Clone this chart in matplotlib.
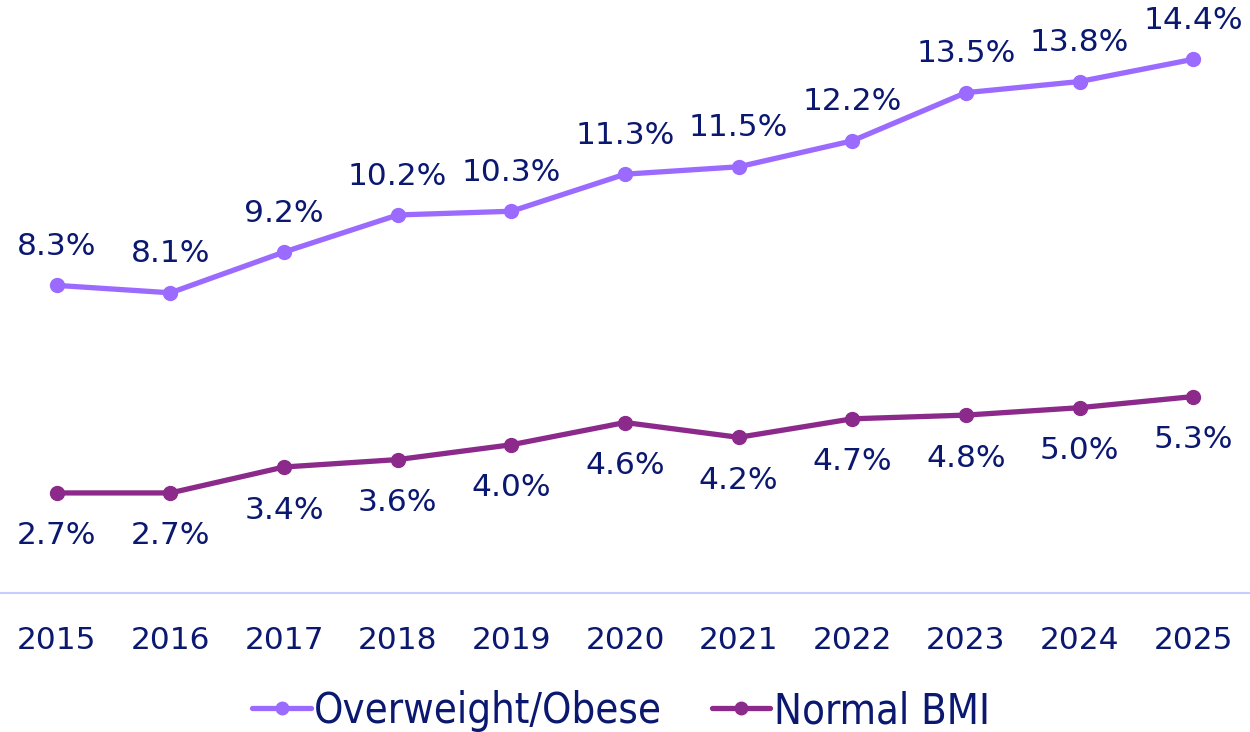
import matplotlib
matplotlib.use("Agg")
import matplotlib.pyplot as plt
from matplotlib.font_manager import FontProperties

years = ["2015", "2016", "2017", "2018", "2019", "2020", "2021", "2022", "2023", "2024", "2025"]
overweight = [8.3, 8.1, 9.2, 10.2, 10.3, 11.3, 11.5, 12.2, 13.5, 13.8, 14.4]
normal = [2.7, 2.7, 3.4, 3.6, 4.0, 4.6, 4.2, 4.7, 4.8, 5.0, 5.3]
series_names = ["Overweight/Obese", "Normal BMI"]

c_over = "#9B6BFF"
c_norm = "#8C2A8C"
c_text = "#0B1870"
c_axis = "#C8CCFF"

plt.rcParams['font.family'] = ['DejaVu Sans']

fig = plt.figure(figsize=(12.5, 7.32), dpi=100)
ax = fig.add_axes([0, (732 - 593) / 732, 1, 593 / 732])
x = list(range(len(years)))

ax.plot(x, overweight, color=c_over, lw=3.8, marker='o', ms=10, label=series_names[0], solid_capstyle='round')
ax.plot(x, normal, color=c_norm, lw=3.8, marker='o', ms=10, label=series_names[1], solid_capstyle='round')

for xi, v in zip(x, overweight):
    ax.annotate(f"{v:.1f}%", (xi, v), xytext=(0, 28), textcoords='offset points',
                ha='center', va='center', fontsize=22.5, color=c_text)
for xi, v in zip(x, normal):
    ax.annotate(f"{v:.1f}%", (xi, v), xytext=(0, -31), textcoords='offset points',
                ha='center', va='center', fontsize=22.5, color=c_text)

ax.set_xlim(-0.5, len(years) - 0.5)
ax.set_ylim(0, 16)
ax.set_xticks(x)
ax.set_xticklabels(years, fontsize=22.5, color=c_text)
ax.tick_params(axis='x', length=0, pad=24)
ax.set_yticks([])
for s in ['top', 'right', 'left']:
    ax.spines[s].set_visible(False)
ax.spines['bottom'].set_color(c_axis)
ax.spines['bottom'].set_linewidth(1.5)

leg_font = FontProperties(family='DejaVu Sans', stretch='condensed', size=30)
leg = fig.legend(loc='center', bbox_to_anchor=(621 / 1250, 1 - 711 / 732), ncol=2,
                 frameon=False, prop=leg_font, handlelength=1.4, handletextpad=0.08,
                 columnspacing=1.2, markerscale=0.9)
for t in leg.get_texts():
    t.set_color(c_text)

fig.savefig("out.png", dpi=100)
